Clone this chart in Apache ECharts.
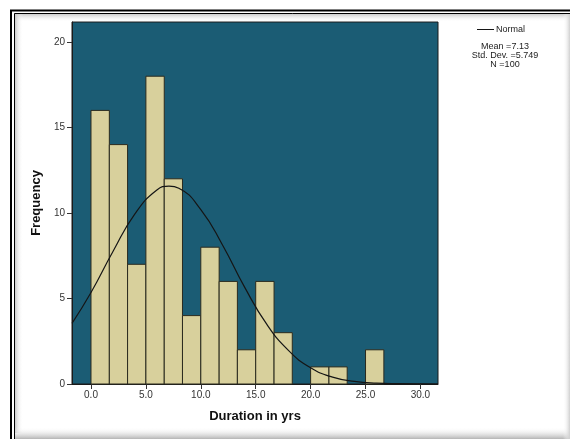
<!DOCTYPE html>
<html>
<head>
<meta charset="utf-8">
<script src="https://cdn.jsdelivr.net/npm/echarts@6/dist/echarts.min.js"></script>
<style>
  html, body { margin: 0; padding: 0; background: #fff; }
  #main { width: 570px; height: 439px; }
</style>
</head>
<body>
<div id="main"></div>
<script>
// histogram bins (Duration in yrs)
var binStart = [0, 1.67, 3.33, 5, 6.67, 8.33, 10, 11.67, 13.33, 15, 16.67, 20, 21.67, 25];
var binEnd = [1.67, 3.33, 5, 6.67, 8.33, 10, 11.67, 13.33, 15, 16.67, 18.33, 21.67, 23.33, 26.67];
var counts = [16, 14, 7, 18, 12, 4, 8, 6, 2, 6, 3, 1, 1, 2];

// normal curve
var curveX = [-1.73, 0, 2, 4, 6, 7.1, 8, 10, 12, 14, 16, 18, 20, 22, 24, 26, 28, 31.6];
var curveY = [3.55, 5.35, 7.75, 9.95, 11.35, 11.57, 11.45, 10.2, 8.1, 5.65, 3.5, 1.95, 0.95, 0.4, 0.15, 0.05, 0.02, 0];

var xTicks = [0, 5, 10, 15, 20, 25, 30];
var yTicks = [0, 5, 10, 15, 20];
var stats = ['Mean =7.13', 'Std. Dev. =5.749', 'N =100'];

var chart = echarts.init(document.getElementById('main'), null, { renderer: 'canvas' });

var bars = [];
for (var i = 0; i < counts.length; i++) {
  bars.push([binStart[i], binEnd[i], counts[i]]);
}
var curve = [];
for (var j = 0; j < curveX.length; j++) {
  curve.push([curveX[j], curveY[j]]);
}

var font = 'Liberation Sans, Arial, sans-serif';

var option = {
  animation: false,
  backgroundColor: '#fff',
  grid: {
    left: 72, top: 22, width: 366, height: 362,
    show: true,
    backgroundColor: '#1b5c74',
    borderColor: '#1a1a1a',
    borderWidth: 1
  },
  legend: {
    data: [{ name: 'Normal', icon: 'rect' }],
    left: 472, top: 20,
    itemWidth: 17, itemHeight: 1, itemGap: 2,
    textStyle: { fontFamily: font, fontSize: 9, color: '#222', padding: [0, 0, 0, -3] }
  },
  xAxis: {
    type: 'value',
    min: -1.73, max: 31.6,
    name: 'Duration in yrs',
    nameLocation: 'middle',
    nameGap: 26,
    nameTextStyle: { fontFamily: font, fontSize: 13, fontWeight: 'bold', color: '#111' },
    axisLine: { show: true, onZero: false, lineStyle: { color: '#1a1a1a' } },
    axisTick: { show: true, length: 5, customValues: xTicks, lineStyle: { color: '#333' } },
    axisLabel: {
      customValues: xTicks, fontFamily: font, fontSize: 10, color: '#333', margin: 6,
      formatter: function (v) { return v.toFixed(1); }
    },
    splitLine: { show: false }
  },
  yAxis: {
    type: 'value',
    min: 0, max: 21.17,
    name: 'Frequency',
    nameLocation: 'middle',
    nameGap: 24,
    nameRotate: 90,
    nameTextStyle: { fontFamily: font, fontSize: 13, fontWeight: 'bold', color: '#111' },
    axisLine: { show: true, onZero: false, lineStyle: { color: '#1a1a1a' } },
    axisTick: { show: true, length: 5, customValues: yTicks, lineStyle: { color: '#333' } },
    axisLabel: { customValues: yTicks, fontFamily: font, fontSize: 10, color: '#333', margin: 7 },
    splitLine: { show: false }
  },
  series: [
    {
      type: 'custom',
      name: 'Frequency',
      data: bars,
      encode: { x: [0, 1], y: 2 },
      renderItem: function (params, api) {
        var p0 = api.coord([api.value(0), api.value(2)]);
        var p1 = api.coord([api.value(1), 0]);
        return {
          type: 'rect',
          shape: { x: p0[0], y: p0[1], width: p1[0] - p0[0], height: p1[1] - p0[1] },
          style: { fill: '#d8d09c', stroke: '#2a2a1e', lineWidth: 1 }
        };
      },
      z: 2
    },
    {
      type: 'line',
      name: 'Normal',
      data: curve,
      smooth: true,
      symbol: 'none',
      clip: true,
      lineStyle: { color: '#151515', width: 1.2 },
      itemStyle: { color: '#151515' },
      z: 3
    }
  ],
  graphic: [
    // frame shadows
    { type: 'rect', silent: true, shape: { x: 14, y: 13, width: 560, height: 9 },
      style: { fill: new echarts.graphic.LinearGradient(0, 0, 0, 1, [{ offset: 0, color: '#bdbdbd' }, { offset: 1, color: 'rgba(255,255,255,0)' }]) } },
    { type: 'rect', silent: true, shape: { x: 14, y: 13, width: 9, height: 420 },
      style: { fill: new echarts.graphic.LinearGradient(0, 0, 1, 0, [{ offset: 0, color: '#bdbdbd' }, { offset: 1, color: 'rgba(255,255,255,0)' }]) } },
    { type: 'rect', silent: true, shape: { x: 14, y: 427, width: 560, height: 12 },
      style: { fill: new echarts.graphic.LinearGradient(0, 0, 0, 1, [{ offset: 0, color: 'rgba(255,255,255,0)' }, { offset: 1, color: '#b4b4b4' }]) } },
    { type: 'rect', silent: true, shape: { x: 563, y: 13, width: 7, height: 426 },
      style: { fill: new echarts.graphic.LinearGradient(0, 0, 1, 0, [{ offset: 0, color: 'rgba(255,255,255,0)' }, { offset: 1, color: '#cfcfcf' }]) } },
    // double border
    { type: 'polyline', silent: true, shape: { points: [[11, 439], [11, 10.5], [570, 10.5]] },
      style: { stroke: '#000', lineWidth: 2, fill: null } },
    { type: 'polyline', silent: true, shape: { points: [[14.5, 439], [14.5, 13.5], [570, 13.5]] },
      style: { stroke: '#000', lineWidth: 1, fill: null } },
    // statistics
    { type: 'text', silent: true, x: 505, y: 42,
      style: { text: stats.join('\n'), fontFamily: font, fontSize: 9, lineHeight: 9, fill: '#222', align: 'center' } }
  ]
};

chart.setOption(option);
</script>
</body>
</html>
